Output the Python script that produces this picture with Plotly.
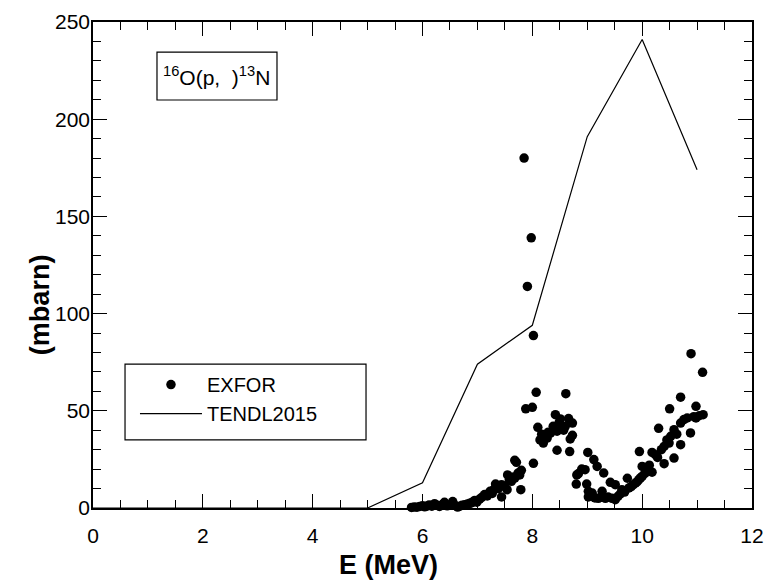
import plotly.graph_objects as go

# TENDL2015 evaluation (E in MeV, cross section in mbarn)
tendl_e = [0, 1, 2, 3, 4, 5, 6, 7, 8, 9, 10, 11]
tendl_xs = [0, 0, 0, 0, 0, 0, 13, 74, 94, 191, 241, 174]

# EXFOR experimental points
exfor_e = [
    5.80, 5.85, 5.90, 5.95, 6.00, 6.04, 6.08, 6.12, 6.17, 6.22, 6.27, 6.31, 6.36, 6.40,
    6.45, 6.50, 6.55, 6.60, 6.64, 6.68, 6.72, 6.77, 6.82, 6.86, 6.89, 6.92, 6.95, 6.99,
    7.04, 7.08, 7.13, 7.18, 7.23, 7.27, 7.30, 7.33, 7.38, 7.44, 7.44, 7.50, 7.54, 7.55,
    7.58, 7.62, 7.66, 7.68, 7.68, 7.71, 7.74, 7.77, 7.79, 7.80, 7.85, 7.88, 7.91, 7.98,
    8.00, 8.02, 8.02, 8.07, 8.10, 8.14, 8.17, 8.20, 8.23, 8.27, 8.29, 8.33, 8.38, 8.42,
    8.45, 8.45, 8.49, 8.51, 8.54, 8.57, 8.60, 8.61, 8.66, 8.68, 8.69, 8.73, 8.73,
    8.80, 8.81, 8.84, 8.90, 8.96, 8.99, 9.01, 9.02, 9.02, 9.06, 9.09, 9.12, 9.14, 9.18,
    9.20, 9.24, 9.27, 9.30, 9.33, 9.38, 9.42, 9.45, 9.51, 9.51, 9.56, 9.60, 9.63, 9.68,
    9.73, 9.76, 9.80, 9.84, 9.88, 9.91, 9.94, 9.95, 9.97, 10.00, 10.00, 10.05, 10.09,
    10.13, 10.18, 10.18, 10.24, 10.28, 10.30, 10.35, 10.40, 10.40, 10.45, 10.49, 10.50,
    10.52, 10.58, 10.58, 10.63, 10.70, 10.70, 10.70, 10.76, 10.82, 10.88, 10.89, 10.94,
    10.98, 10.98, 11.04, 11.10, 11.11,
]
exfor_xs = [
    0.3, 0.5, 0.4, 0.8, 1.2, 0.6, 1.0, 1.5, 0.9, 2.2, 1.3, 0.8, 1.8, 2.9,
    1.1, 1.6, 3.3, 1.2, 0.5, 0.9, 1.4, 1.7, 2.1, 2.4, 2.6, 3.2, 3.9, 3.0,
    4.6, 5.5, 6.9, 6.2, 8.6, 7.5, 9.5, 12.3, 10.0, 12.0, 5.7, 11.0, 9.4, 17.0,
    14.5, 13.7, 16.0, 15.4, 24.5, 23.5, 18.0, 17.0, 9.4, 19.4, 180.0, 51.0, 114.0, 139.0,
    51.8, 88.7, 23.0, 59.5, 41.5, 35.0, 38.0, 33.4, 37.0, 36.0, 39.0, 38.5, 42.0, 48.0,
    39.5, 29.7, 44.0, 45.8, 41.0, 40.0, 42.0, 58.8, 46.0, 29.0, 35.5, 43.7, 37.4,
    12.3, 17.0, 17.7, 20.0, 19.7, 12.3, 28.6, 8.6, 5.7, 6.0, 7.7, 24.9, 5.2, 21.4,
    5.0, 5.4, 8.6, 18.0, 5.0, 5.6, 13.2, 5.0, 12.0, 4.3, 6.0, 7.2, 9.4, 8.2,
    15.3, 10.3, 11.0, 12.0, 12.9, 13.5, 14.6, 29.0, 15.5, 16.3, 21.4, 17.8, 19.7,
    22.0, 28.6, 18.4, 27.4, 26.0, 41.0, 30.0, 31.7, 22.8, 35.0, 33.4, 51.0,
    36.9, 40.3, 25.7, 38.0, 32.6, 57.0, 43.7, 45.5, 46.3, 38.6, 79.4, 47.0,
    52.3, 46.3, 47.5, 69.8, 48.0,
]

# labels
x_label = "E (MeV)"
y_label = "(mbarn)"
reaction_label = "<sup>16</sup>O(p,  )<sup>13</sup>N"
series_names = ["EXFOR", "TENDL2015"]

font_family = "Liberation Sans, Arial, Helvetica, sans-serif"

fig = go.Figure()
fig.add_trace(go.Scatter(
    x=exfor_e, y=exfor_xs, mode="markers", name=series_names[0],
    marker=dict(color="black", size=9.5, line=dict(width=0)),
    cliponaxis=False,
))
fig.add_trace(go.Scatter(
    x=tendl_e, y=tendl_xs, mode="lines", name=series_names[1],
    line=dict(color="black", width=1.2),
))

axis_common = dict(
    showgrid=False, zeroline=False, showline=True, linecolor="black", linewidth=1.5,
    mirror="allticks", ticks="inside", tickcolor="black", tickwidth=1.2,
    tickfont=dict(family=font_family, size=21, color="black"),
    automargin=False,
)

fig.update_xaxes(
    range=[0, 12], tick0=0, dtick=2, ticklen=14, ticklabelstandoff=8,
    minor=dict(dtick=0.5, ticklen=8, ticks="inside", tickcolor="black", tickwidth=1.2, showgrid=False),
    **axis_common,
)
fig.update_yaxes(
    range=[0, 250], tick0=0, dtick=50, ticklen=14, ticklabelstandoff=-3,
    minor=dict(dtick=10, ticklen=8, ticks="inside", tickcolor="black", tickwidth=1.2, showgrid=False),
    **axis_common,
)

# axis titles (placed as in the reference, slightly off-centre)
fig.add_annotation(
    xref="paper", yref="paper", x=0.448, y=-0.118, xanchor="center", yanchor="middle",
    text="<b>%s</b>" % x_label, showarrow=False,
    font=dict(family=font_family, size=27, color="black"),
)
fig.add_annotation(
    xref="paper", yref="paper", x=-0.080, y=0.418, xanchor="center", yanchor="middle",
    text="<b>%s</b>" % y_label, showarrow=False, textangle=-90,
    font=dict(family=font_family, size=27, color="black"),
)

# reaction label in a framed box
fig.add_shape(
    type="rect", xref="paper", yref="paper",
    x0=0.0971, x1=0.2792, y0=0.8395, y1=0.938,
    line=dict(color="black", width=1.2), fillcolor="rgba(0,0,0,0)",
)
fig.add_annotation(
    xref="paper", yref="paper", x=0.188, y=0.889, xanchor="center", yanchor="middle",
    text=reaction_label, showarrow=False,
    font=dict(family=font_family, size=21, color="black"),
)

# legend frame
fig.add_shape(
    type="rect", xref="paper", yref="paper",
    x0=0.0486, x1=0.4143, y0=0.140, y1=0.296,
    line=dict(color="black", width=1.2), fillcolor="rgba(0,0,0,0)",
)

fig.update_layout(
    width=764, height=582,
    margin=dict(l=93, r=12, t=22, b=74),
    plot_bgcolor="white", paper_bgcolor="white",
    showlegend=True,
    legend=dict(
        x=0.0637, y=0.294, xanchor="left", yanchor="top",
        borderwidth=0, bgcolor="rgba(0,0,0,0)",
        font=dict(family=font_family, size=20, color="black"),
        itemwidth=62,
    ),
    font=dict(family=font_family, color="black"),
)

fig.write_html("out.html")
